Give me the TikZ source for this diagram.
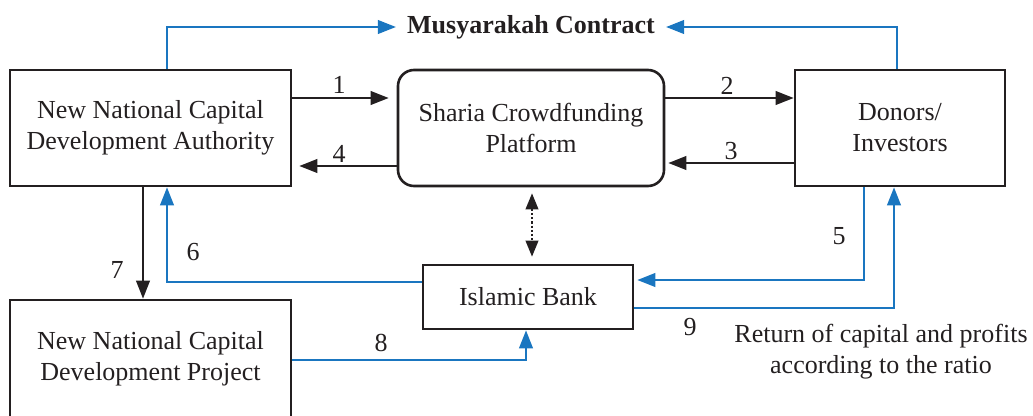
\documentclass[tikz,border=0pt]{standalone}
\usepackage{fontspec}
\setmainfont{Liberation Serif}
\usetikzlibrary{arrows.meta}
\definecolor{flowblue}{RGB}{26,118,192}
\definecolor{ink}{RGB}{35,31,32}
\begin{document}
\begin{tikzpicture}[x=1pt,y=-1pt,
  every node/.style={font=\fontsize{26}{31}\selectfont, text=ink},
  box/.style={draw=ink, line width=2.6pt, align=center, inner sep=0pt},
  arr/.style={draw=ink, line width=2.3pt, -{Triangle[length=18pt,width=13.5pt]}},
  barr/.style={draw=flowblue, line width=2.4pt, -{Triangle[length=18pt,width=13.5pt]}},
  darr/.style={draw=ink, line width=2.2pt, dotted,
    {Triangle[length=16pt,width=12.5pt]}-{Triangle[length=16pt,width=12.5pt]}},
  lbl/.style={inner sep=0pt}]
\useasboundingbox (0,0) rectangle (1033,415);

% main blocks
\node[box, minimum width=281pt, minimum height=116pt] (auth) at (150.5,128)
  {New National Capital\\Development Authority};
\node[box, rounded corners=16pt, minimum width=266pt, minimum height=116pt] (plat) at (531,128)
  {Sharia Crowdfunding\\Platform};
\node[box, minimum width=210pt, minimum height=116pt] (don) at (900,128)
  {Donors/\\Investors};
\node[box, minimum width=210pt, minimum height=64pt] (bank) at (528,297)
  {Islamic Bank};
\node[box, minimum width=281pt, minimum height=118pt] (proj) at (150.5,359)
  {New National Capital\\Development Project};
\node[font=\fontsize{26}{31}\selectfont\bfseries, inner xsep=11pt, inner ysep=0pt] (mc) at (531,27)
  {Musyarakah Contract};
\node[align=center, inner sep=0pt] (ret) at (881,352)
  {Return of capital and profits\\according to the ratio};

% contract links
\draw[barr] ([xshift=16.5pt]auth.north) |- (mc.west);
\draw[barr] ([xshift=-3pt]don.north) |- (mc.east);

% platform flows
\draw[arr, shorten >=8pt] ([yshift=30pt]auth.east) -- ([yshift=30pt]plat.west);
\draw[arr] ([yshift=30pt]plat.east) -- ([yshift=30pt]don.west);
\draw[arr, shorten >=3pt] ([yshift=-35pt]don.west) -- ([yshift=-35pt]plat.east);
\draw[arr, shorten >=7pt] ([yshift=-38pt]plat.west) -- ([yshift=-38pt]auth.east);
\draw[darr, shorten <=6pt, shorten >=7pt] ([xshift=1pt]plat.south) -- ([xshift=1pt]plat.south |- bank.north);

% project and bank flows
\draw[arr] ([xshift=-7.5pt]auth.south) -- ([xshift=-7.5pt]proj.north);
\draw[barr] ([yshift=15pt]bank.west) -| ([xshift=16.5pt]auth.south);
\draw[barr, shorten >=3pt] ([xshift=-36pt]don.south) |- ([yshift=17pt]bank.east);
\draw[barr] ([yshift=-11pt]bank.east) -| ([xshift=-6pt]don.south);
\draw[barr] ([yshift=-1pt]proj.east) -| ([xshift=-2pt]bank.south);

% step numbers
\node[lbl] (n1) at (339,85) {1};
\node[lbl] (n2) at (727,86) {2};
\node[lbl] (n3) at (731,151) {3};
\node[lbl] (n4) at (339,154) {4};
\node[lbl] (n5) at (839,236) {5};
\node[lbl] (n6) at (193,252) {6};
\node[lbl] (n7) at (117,270) {7};
\node[lbl] (n8) at (381,343) {8};
\node[lbl] (n9) at (690,327) {9};
\end{tikzpicture}
\end{document}
